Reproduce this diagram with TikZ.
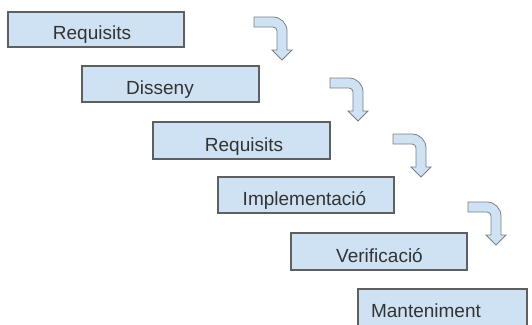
\documentclass[tikz,border=0pt]{standalone}
\usepackage{fontspec}
\setmainfont{Liberation Sans}
\definecolor{boxfill}{HTML}{CFE2F3}
\definecolor{boxline}{HTML}{5F5F5F}
\definecolor{arrline}{HTML}{7A7F86}
\definecolor{txt}{HTML}{333333}
\tikzset{
  stagebox/.style={draw=boxline, fill=boxfill, line width=1.1pt, rectangle, inner sep=0pt},
  stagelabel/.style={anchor=base, inner sep=0pt, text=txt, font=\fontsize{19}{22}\selectfont},
  pics/bentarrow/.style={code={
    \draw[draw=arrline, fill=boxfill, line width=0.8pt, line join=miter]
      (0,0) -- (19,0) .. controls (26.7,0) and (33,6.3) .. (33,14)
      -- (33,33) -- (38,33) -- (28,43) -- (18,33) -- (23,33) -- (23,14)
      .. controls (23,11.8) and (21.2,10) .. (19,10) -- (0,10) -- cycle;
  }}
}
\begin{document}
\begin{tikzpicture}[x=1pt,y=-1pt]
\useasboundingbox (0,0) rectangle (532,324);
\node[stagebox, minimum width=176pt, minimum height=35pt] (b1) at (96,29.5) {};
\node[stagebox, minimum width=177pt, minimum height=36pt] (b2) at (170.5,84) {};
\node[stagebox, minimum width=177pt, minimum height=37pt] (b3) at (241.5,140.5) {};
\node[stagebox, minimum width=176pt, minimum height=36pt] (b4) at (306,195) {};
\node[stagebox, minimum width=176pt, minimum height=37pt] (b5) at (379,251.5) {};
\node[stagebox, minimum width=169pt, minimum height=46pt] (b6) at (442.5,312) {};
\node[stagelabel] (t1) at (92,39.5) {Requisits};
\node[stagelabel] (t2) at (160,94) {Disseny};
\node[stagelabel] (t3) at (244,151) {Requisits};
\node[stagelabel] (t4) at (304.5,205.5) {Implementació};
\node[stagelabel] (t5) at (379.5,262) {Verificació};
\node[stagelabel] (t6) at (426,317) {Manteniment};
\pic at (254,17) {bentarrow};
\pic at (330,78) {bentarrow};
\pic at (393,134) {bentarrow};
\pic at (468,202) {bentarrow};
\end{tikzpicture}
\end{document}
